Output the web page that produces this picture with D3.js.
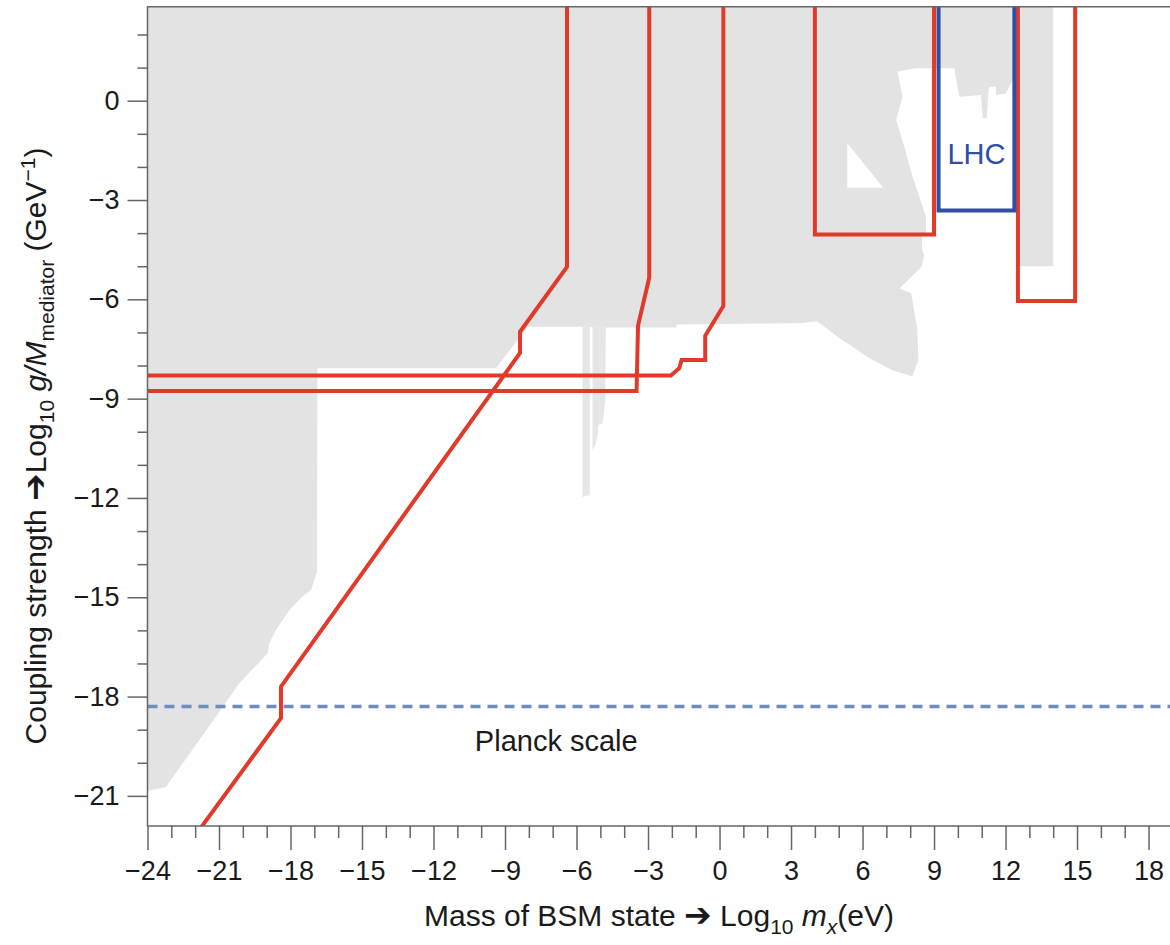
<!DOCTYPE html>
<html>
<head>
<meta charset="utf-8">
<script src="https://cdn.jsdelivr.net/npm/d3@7"></script>
<style>
    body { margin: 0; background: #fff; }
    svg { display: block; font-family: "Liberation Sans", Arial, Helvetica, sans-serif; }
</style>
</head>
<body>
<div id="chart"></div>
<script>
// axis ranges: log10 mass (eV) and log10 coupling (GeV^-1)
const xDomain = [-24, 18.9];
const yDomain = [-21.91, 2.84];
const xMajorTicks = d3.range(-24, 19, 3);
const xMinorTicks = d3.range(-24, 19, 1).filter(d => d % 3 !== 0);
const yMajorTicks = d3.range(-21, 1, 3);
const yMinorTicks = d3.range(-21, 3, 1).filter(d => d % 3 !== 0);

// excluded parameter space (grey), [log10 m, log10 g/M]
const excludedRegion = [
    [-24, 3], [14.0, 3], [14.0, -5.0], [12.45, -5.0], [12.45, 0.63], [12.3, 0.63],
    [12.02, 0.22], [11.6, 0.17], [11.6, 0.44], [11.29, 0.40], [11.21, -0.53],
    [11.04, -0.53], [10.97, 0.17], [10.06, 0.12], [9.85, 0.98], [8.24, 0.98],
    [7.47, 0.88], [7.68, 0.12], [7.41, -0.58], [7.75, -1.39], [8.1, -2.3],
    [8.66, -3.5], [8.66, -3.97], [8.5, -4.06], [8.5, -4.51], [8.59, -4.66],
    [8.47, -5.02], [7.55, -5.67], [8.04, -5.82], [8.3, -6.93], [8.34, -7.83],
    [8.09, -8.32], [7.25, -8.14], [6.28, -7.77], [5.03, -7.17], [4.1, -6.66],
    [3.35, -6.72], [-1.81, -6.76], [-1.81, -6.85], [-4.75, -6.85], [-5.75, -6.83],
    [-8.05, -6.83], [-9.38, -8.08], [-16.87, -8.08], [-16.89, -14.23],
    [-17.14, -14.78], [-17.5, -14.98], [-18.05, -15.39], [-18.61, -15.99],
    [-18.89, -16.39], [-18.96, -16.69], [-20.15, -17.6], [-21.13, -18.61],
    [-23.23, -20.73], [-24, -20.85]
];
const allowedHole = [[5.36, -1.28], [5.36, -2.63], [6.87, -2.63]];
const thinStripA = [[-5.75, -6.8], [-5.44, -6.8], [-5.44, -11.91], [-5.75, -11.97]];
const thinStripB = [
    [-5.33, -6.8], [-4.77, -6.8], [-4.79, -9.09], [-4.91, -9.74], [-5.09, -9.8],
    [-5.09, -10.0], [-5.21, -10.4], [-5.33, -10.55]
];

// future sensitivity curves (red)
const reachDiagonal = [
    [-21.8, -22.0], [-18.4, -18.65], [-18.4, -17.7], [-8.37, -7.62],
    [-8.37, -6.98], [-6.4, -5.02], [-6.4, 3]
];
const reachUpper = [
    [-24, -8.3], [-2.04, -8.3], [-1.69, -8.08], [-1.59, -7.83], [-0.6, -7.83],
    [-0.6, -7.1], [0.16, -6.2], [0.16, 3]
];
const reachLower = [
    [-24, -8.77], [-3.48, -8.77], [-3.42, -6.8], [-2.95, -5.35], [-2.95, 3]
];
const reachBoxMid = [[4, 3], [4, -4.04], [9, -4.04], [9, 3]];
const reachBoxHigh = [[12.52, 3], [12.52, -6.05], [14.92, -6.05], [14.92, 3]];
const lhcBox = [[9.19, 3], [9.19, -3.32], [12.37, -3.32], [12.37, 3]];

const planckCoupling = -18.3;
const lhcLabelAt = [10.78, -1.62];
const planckLabelAt = [-6.85, -19.35];

const red = "#e23a2a", blue = "#2f4ea6", grey = "#e3e3e3";
const W = 1170, H = 945;
const plot = { left: 147.5, right: 1170, top: 6.7, bottom: 826 };

const svg = d3.select("#chart")
    .append("svg")
    .attr("width", W)
    .attr("height", H);

const x = d3.scaleLinear().domain(xDomain).range([plot.left, plot.right]);
const y = d3.scaleLinear().domain(yDomain).range([plot.bottom, plot.top]);

svg.append("clipPath")
    .attr("id", "plot-clip")
    .append("rect")
    .attr("x", plot.left).attr("y", plot.top)
    .attr("width", plot.right - plot.left)
    .attr("height", plot.bottom - plot.top);

const line = d3.line().x(d => x(d[0])).y(d => y(d[1]));
const area = d3.line().x(d => x(d[0])).y(d => y(d[1])).curve(d3.curveLinearClosed);

const g = svg.append("g").attr("clip-path", "url(#plot-clip)");

// grey excluded region
g.append("path").attr("d", area(excludedRegion)).attr("fill", grey);
g.append("path").attr("d", area(allowedHole)).attr("fill", "#fff");
g.selectAll("path.strip")
    .data([thinStripA, thinStripB])
    .enter()
    .append("path")
    .attr("class", "strip")
    .attr("d", area)
    .attr("fill", "#e6e6e6");

// planck scale
g.append("line")
    .attr("x1", plot.left).attr("x2", plot.right)
    .attr("y1", y(planckCoupling)).attr("y2", y(planckCoupling))
    .attr("stroke", "#6b8cc4")
    .attr("stroke-width", 3.4)
    .attr("stroke-dasharray", "10,7");

// red reach curves and boxes
g.selectAll("path.reach")
    .data([reachUpper, reachLower, reachDiagonal, reachBoxMid, reachBoxHigh])
    .enter()
    .append("path")
    .attr("class", "reach")
    .attr("d", line)
    .attr("fill", "none")
    .attr("stroke", red)
    .attr("stroke-width", 4);

g.append("path")
    .attr("d", line(lhcBox))
    .attr("fill", "none")
    .attr("stroke", blue)
    .attr("stroke-width", 4);

// axes
function styleAxis(sel) {
    sel.select(".domain").remove();
    sel.selectAll(".tick line").attr("stroke", "#666").attr("stroke-width", 1.5);
    sel.selectAll(".tick text")
        .attr("fill", "#1a1a1a")
        .style("font-size", "27px")
        .style("font-family", "'Liberation Sans', Arial, sans-serif");
}

svg.append("g")
    .attr("transform", `translate(0,${plot.bottom})`)
    .call(d3.axisBottom(x).tickValues(xMinorTicks).tickSize(12).tickFormat(""))
    .call(styleAxis);
svg.append("g")
    .attr("transform", `translate(0,${plot.bottom})`)
    .call(d3.axisBottom(x).tickValues(xMajorTicks).tickSize(24).tickPadding(11))
    .call(styleAxis);

svg.append("g")
    .attr("transform", `translate(${plot.left},0)`)
    .call(d3.axisLeft(y).tickValues(yMinorTicks).tickSize(10).tickFormat(""))
    .call(styleAxis);
svg.append("g")
    .attr("transform", `translate(${plot.left},0)`)
    .call(d3.axisLeft(y).tickValues(yMajorTicks).tickSize(20).tickPadding(8))
    .call(styleAxis);

// frame lines: left, bottom, top
svg.append("path")
    .attr("d", `M${plot.right},${plot.top}H${plot.left}V${plot.bottom}H${plot.right}`)
    .attr("fill", "none")
    .attr("stroke", "#666")
    .attr("stroke-width", 1.5);

// labels
svg.append("text")
    .attr("x", x(lhcLabelAt[0])).attr("y", y(lhcLabelAt[1]))
    .attr("text-anchor", "middle")
    .attr("dy", "0.35em")
    .attr("fill", blue)
    .style("font-size", "29px")
    .text("LHC");

svg.append("text")
    .attr("x", x(planckLabelAt[0])).attr("y", y(planckLabelAt[1]))
    .attr("text-anchor", "middle")
    .attr("dy", "0.35em")
    .attr("fill", "#1a1a1a")
    .style("font-size", "29px")
    .text("Planck scale");

// heavy arrow used in both axis titles
function arrow(sel) {
    sel.append("tspan")
        .style("font-family", "'DejaVu Sans', sans-serif")
        .style("font-size", "33px")
        .text("\u2794");
}

const xTitle = svg.append("text")
    .attr("x", 659).attr("y", 926)
    .attr("text-anchor", "middle")
    .attr("fill", "#1a1a1a")
    .style("font-size", "30px");
xTitle.append("tspan").text("Mass of BSM state ");
xTitle.call(arrow);
xTitle.append("tspan").text(" Log");
xTitle.append("tspan").attr("dy", 8).style("font-size", "21px").text("10");
xTitle.append("tspan").attr("dy", -8).text(" ");
xTitle.append("tspan").style("font-style", "italic").text("m");
xTitle.append("tspan").attr("dy", 8).style("font-size", "21px").style("font-style", "italic").text("x");
xTitle.append("tspan").attr("dy", -8).text("(eV)");

const yTitle = svg.append("text")
    .attr("transform", "translate(46,446) rotate(-90)")
    .attr("text-anchor", "middle")
    .attr("fill", "#1a1a1a")
    .style("font-size", "30px");
yTitle.append("tspan").text("Coupling strength ");
yTitle.call(arrow);
yTitle.append("tspan").text("Log");
yTitle.append("tspan").attr("dy", 8).style("font-size", "21px").text("10");
yTitle.append("tspan").attr("dy", -8).text(" ");
yTitle.append("tspan").style("font-style", "italic").text("g/M");
yTitle.append("tspan").attr("dy", 8).style("font-size", "21px").text("mediator");
yTitle.append("tspan").attr("dy", -8).text(" (GeV");
yTitle.append("tspan").attr("dy", -11).style("font-size", "21px").text("\u22121");
yTitle.append("tspan").attr("dy", 11).text(")");
</script>
</body>
</html>
